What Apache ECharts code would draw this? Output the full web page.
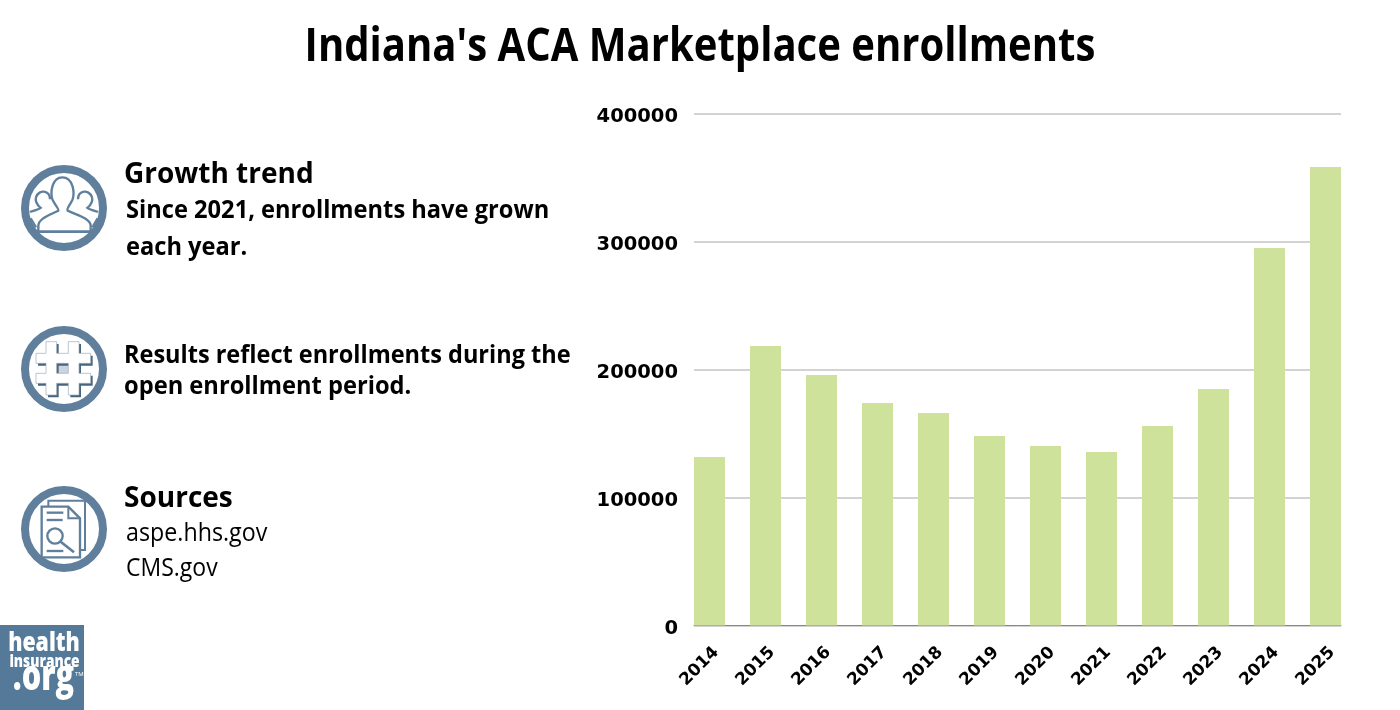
<!DOCTYPE html>
<html>
<head>
<meta charset="utf-8">
<title>Indiana's ACA Marketplace enrollments</title>
<script src="https://cdn.jsdelivr.net/npm/echarts@6/dist/echarts.min.js"></script>
<style>
html, body { margin: 0; padding: 0; background: #fff; }
#chart { width: 1400px; height: 710px; }
</style>
</head>
<body>
<div id="chart"></div>
<script>
var titleText = "Indiana's ACA Marketplace enrollments";
var years = ['2014', '2015', '2016', '2017', '2018', '2019', '2020', '2021', '2022', '2023', '2024', '2025'];
var enrollments = [131800, 218600, 195900, 174000, 166200, 148200, 140400, 135700, 156000, 184900, 295200, 358600];
var yTicks = { min: 0, max: 400000, interval: 100000 };

var slate = '#5f7f9c';
var logoBlue = '#557a99';
var textFont = '"Open Sans", "Noto Sans", sans-serif';
var axisFont = '"DejaVu Sans", sans-serif';

// graphic has no plain path type, so each svg path gets registered as a shape
var shapeCount = 0;
function svgShape(d) {
    var name = 'iconPath' + (shapeCount++);
    echarts.graphic.registerShape(name, echarts.graphic.extendPath(d, {}));
    return name;
}

// reference type is narrower than Open Sans, squeeze it with scaleX
function label(x, y, text, size, weight, squeeze, color, align) {
    return {
        type: 'text',
        x: x,
        y: y,
        scaleX: squeeze || 1,
        style: {
            text: text,
            font: weight + ' ' + size + 'px ' + textFont,
            fill: color || '#000',
            textAlign: align || 'left',
            textVerticalAlign: 'middle'
        }
    };
}

// icons are traced in 3x coords, so the group scales them down
function icon(y, paths) {
    return {
        type: 'group',
        x: 0,
        y: y,
        scaleX: 1 / 3,
        scaleY: 1 / 3,
        children: paths
    };
}

function line(d, width) {
    return {
        type: svgShape(d),
        style: { fill: null, stroke: slate, lineWidth: width || 7 }
    };
}

function ring(cy) {
    return {
        type: 'circle',
        shape: { cx: 64, cy: cy, r: 39 },
        style: { fill: '#fff', stroke: slate, lineWidth: 8 }
    };
}

var hashPath = 'M138 575H170V610H205V575H237V610H272V640H237V670H272V700H237V735H205V700H170V735H138V700H108V670H138V640H108V610H138Z M170 640V670H205V640Z';

var peopleIcon = icon(150, [
    line('M115 243V228C115 205 150 195 175 182C178 178 165 165 158 150C150 130 155 82 187 82C220 82 225 130 217 150C210 165 198 178 203 182C230 195 272 205 272 228V243'),
    line('M100 245H285', 8),
    line('M90 186C105 180 118 178 122 174C110 165 105 150 108 142C112 128 125 124 132 125C145 127 150 138 150 148'),
    line('M294 186C279 180 266 178 262 174C274 165 279 150 276 142C272 128 259 124 252 125C239 127 234 138 234 148'),
    line('M92 205L108 232'),
    line('M293 205L277 232')
]);

var hashIcon = icon(150, [
    { type: 'rect', shape: { x: 170, y: 640, width: 36, height: 32 }, style: { fill: '#c9d4de' } },
    { type: svgShape(hashPath), x: 6, y: 7, style: { fill: '#47657f', stroke: null } },
    { type: svgShape(hashPath), style: { fill: '#fff', stroke: '#9aa9b6', lineWidth: 2 } }
]);

var docIcon = icon(470, [
    line('M145 108V92H255V240H240', 6),
    { type: svgShape('M125 110H205L240 145V262H125Z'), style: { fill: '#fff', stroke: slate, lineWidth: 7 } },
    line('M205 110V145H240', 6),
    line('M140 128H190', 7),
    line('M140 150H188', 7),
    { type: 'circle', shape: { cx: 165, cy: 198, r: 23 }, style: { fill: null, stroke: slate, lineWidth: 7 } },
    line('M182 215L222 247', 8),
    line('M140 243H190', 7)
]);

var logo = [
    { type: 'rect', shape: { x: 0, y: 625, width: 84, height: 85 }, style: { fill: logoBlue } },
    label(44, 644, 'health', 26, 800, 0.82, '#fff', 'center'),
    label(44.5, 662, 'insurance', 17, 800, 0.81, '#fff', 'center'),
    label(43.5, 678, '.org', 42, 800, 0.73, '#fff', 'center'),
    label(75, 674, 'TM', 6, 400, 1, '#fff')
];

var graphics = [
    ring(208), ring(369), ring(529),
    peopleIcon, hashIcon, docIcon,
    label(700, 47.5, titleText, 46, 700, 0.871, '#000', 'center'),
    label(124, 175, 'Growth trend', 28, 700),
    label(126, 211, 'Since 2021, enrollments have grown', 25, 700, 0.946),
    label(126, 248, 'each year.', 25, 700, 0.946),
    label(124, 356, 'Results reflect enrollments during the', 25, 700, 0.94),
    label(124, 387, 'open enrollment period.', 25, 700, 0.947),
    label(124, 499, 'Sources', 28, 700),
    label(126, 534, 'aspe.hhs.gov', 25, 400, 0.93),
    label(126, 569, 'CMS.gov', 25, 400, 0.92)
].concat(logo);

var chart = echarts.init(document.getElementById('chart'), null, { renderer: 'canvas' });

chart.setOption({
    animation: false,
    backgroundColor: '#fff',
    // grid 0 holds gridlines and y labels, grid 1 is wider so first/last bars meet the line ends
    grid: [
        { left: 694, width: 647, top: 114, height: 511.5 },
        { left: 681.5, width: 672, top: 114, height: 511.5 }
    ],
    xAxis: [
        {
            type: 'category',
            gridIndex: 0,
            data: years,
            axisTick: { show: false },
            axisLabel: { show: false },
            axisLine: { lineStyle: { color: '#888', width: 1 } }
        },
        {
            type: 'category',
            gridIndex: 1,
            data: years,
            axisTick: { show: false },
            axisLine: { show: false },
            axisLabel: {
                interval: 0,
                rotate: 45,
                margin: 17.5,
                align: 'right',
                verticalAlign: 'top',
                lineHeight: 19, // tall line pushes the rotated text down and right
                fontFamily: axisFont,
                fontSize: 17,
                fontWeight: 600,
                color: '#000'
            }
        }
    ],
    yAxis: [
        {
            type: 'value',
            gridIndex: 0,
            min: yTicks.min,
            max: yTicks.max,
            interval: yTicks.interval,
            axisLine: { show: false },
            axisTick: { show: false },
            splitLine: { lineStyle: { color: '#c4c4c4', width: 1.5 } },
            axisLabel: {
                margin: 16,
                verticalAlign: 'top',
                lineHeight: 6,
                formatter: function (value) { return String(value); },
                fontFamily: axisFont,
                fontSize: 19.5,
                fontWeight: 600,
                color: '#000'
            }
        },
        {
            type: 'value',
            gridIndex: 1,
            min: yTicks.min,
            max: yTicks.max,
            show: false
        }
    ],
    series: [{
        type: 'bar',
        xAxisIndex: 1,
        yAxisIndex: 1,
        data: enrollments,
        barWidth: 31,
        itemStyle: { color: '#cfe29c' }
    }],
    graphic: { elements: graphics }
});
</script>
</body>
</html>
